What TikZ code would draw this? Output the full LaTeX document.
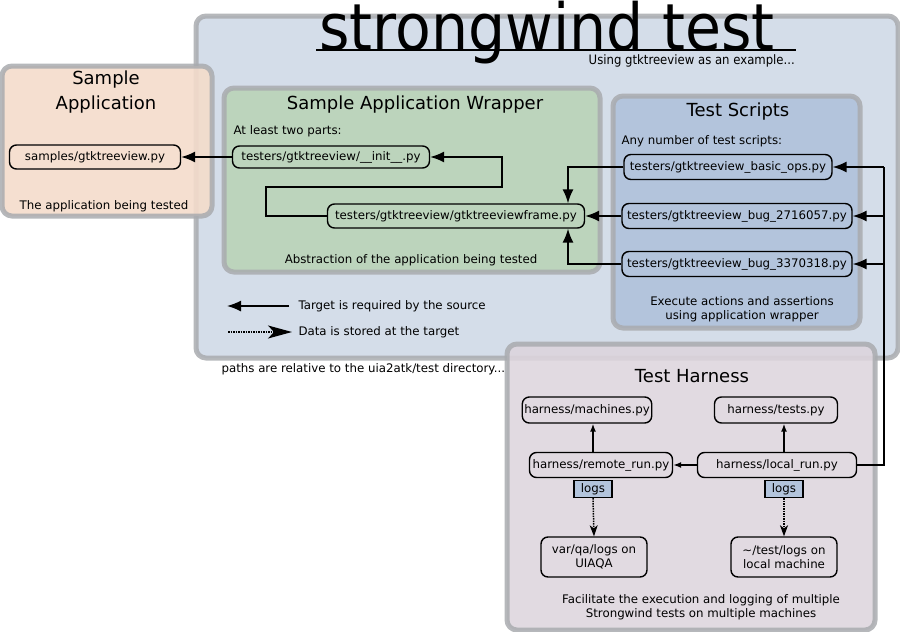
\documentclass[tikz,border=0pt]{standalone}
\usepackage{fontspec}
\usepackage{xcolor}
\setmainfont{DejaVu Sans}
\newfontfamily\condfont{DejaVu Sans Condensed}
\usetikzlibrary{arrows.meta}
\definecolor{paleBlue}{HTML}{D4DDE9}
\definecolor{peach}{HTML}{F4DCCB}
\definecolor{sage}{HTML}{BCD4BC}
\definecolor{steel}{HTML}{B3C4DC}
\definecolor{mauve}{HTML}{DDD5DD}
\definecolor{rim}{HTML}{A9ABAF}
\newcommand\fsnode{\fontsize{11.8}{16}\selectfont}
\newcommand\fshead{\fontsize{18}{25}\selectfont}
\tikzset{
  panel/.style={draw=rim, draw opacity=0.85, line width=5pt, rounded corners=10pt},
  file/.style={draw, line width=1.4pt, rounded corners=7pt, font=\fsnode, inner sep=2pt},
  logbox/.style={draw, line width=1.2pt, fill=steel, font=\fsnode, inner sep=1pt, minimum width=38pt, minimum height=17pt},
  req/.style={-{Latex[length=14pt,width=11pt]}, line width=1.5pt},
  reqsmall/.style={-{Latex[length=8pt,width=6pt]}, line width=1.5pt},
  store/.style={-{Stealth[length=11pt,width=8pt,inset=3pt]}, line width=1.5pt, densely dotted},
  storebig/.style={-{Stealth[length=24pt,width=13pt,inset=6pt]}, line width=1.5pt, densely dotted},
  note/.style={font=\fsnode, align=center}
}
\begin{document}
\begin{tikzpicture}[x=1pt,y=-1pt]
\useasboundingbox (0,0) rectangle (900,632);
% Outer panel and title
\draw[panel, fill=paleBlue] (196,16) rectangle (898,358);
\node[font=\condfont\fontsize{65}{70}\selectfont, anchor=base, inner sep=0pt] (title) at (547,50) {strongwind test};
\draw[line width=1.8pt] ([xshift=-3pt]title.base west) -- ([xshift=21pt]title.base east);
\node[font=\condfont\fontsize{13}{15}\selectfont, anchor=base east, inner sep=0pt] (subtitle) at (795,64) {Using gtktreeview as an example...};
\node[note, anchor=west] (paths) at (218,369) {paths are relative to the uia2atk/test directory...};

% Sample application
\draw[panel, fill=peach, fill opacity=0.9] (2,66) rectangle (212,216);
\node[font=\fshead, align=center] (appTitle) at (106,92) {Sample\\Application};
\node[file, minimum width=171pt, minimum height=24pt] (samples) at (95,157) {samples/gtktreeview.py};
\node[note] (appNote) at (104,206) {The application being tested};

% Wrapper
\draw[panel, fill=sage] (224,88) rectangle (600,272);
\node[font=\fshead] (wrapTitle) at (415,105) {Sample Application Wrapper};
\node[note, anchor=west] (wrapInfo) at (230,131) {At least two parts:};
\node[file, minimum width=197pt, minimum height=22pt] (init) at (331,157) {testers/gtktreeview/\_\_init\_\_.py};
\node[file, minimum width=257pt, minimum height=24pt] (frame) at (456,216) {testers/gtktreeview/gtktreeviewframe.py};
\node[note] (wrapNote) at (411,260) {Abstraction of the application being tested};
\draw[req] (init.west) -- (samples.east);
\draw[req] (frame.west) -- ++(-61,0) -- ++(0,-29) -- ++(236,0) |- (init.east);

% Test scripts
\draw[panel, fill=steel] (613,96) rectangle (860,328);
\node[font=\fshead] (scriptTitle) at (738,112) {Test Scripts};
\node[note, anchor=west] (scriptInfo) at (618,141) {Any number of test scripts:};
\node[file, minimum width=208pt, minimum height=25pt] (basic) at (728,167) {testers/gtktreeview\_basic\_ops.py};
\node[file, minimum width=230pt, minimum height=25pt] (bugA) at (737,216) {testers/gtktreeview\_bug\_2716057.py};
\node[file, minimum width=230pt, minimum height=25pt] (bugB) at (737,264) {testers/gtktreeview\_bug\_3370318.py};
\node[note] (scriptNote) at (742,309) {Execute actions and assertions\\[-2pt]using application wrapper};
\draw[req] (basic.west) -| ([xshift=112pt]frame.north);
\draw[req] (bugA.west) -- (frame.east);
\draw[req] (bugB.west) -| ([xshift=112pt]frame.south);

% Legend
\node[note, anchor=west] (legReq) at (295,306) {Target is required by the source};
\node[note, anchor=west] (legData) at (295,332) {Data is stored at the target};
\draw[req] ([xshift=-6pt]legReq.west) -- ++(-62,0);
\draw[storebig] ([xshift=-67pt]legData.west) -- ([xshift=-3pt]legData.west);

% Test harness
\draw[panel, fill=mauve, fill opacity=0.88] (507,344) rectangle (875,630);
\node[font=\fshead] (harnessTitle) at (692,376) {Test Harness};
\node[file, minimum width=115pt, minimum height=26pt] (machines) at (587,410) {harness/machines.py};
\node[file, minimum width=123pt, minimum height=26pt] (tests) at (776,410) {harness/tests.py};
\node[file, minimum width=143pt, minimum height=25pt] (remote) at (601,465) {harness/remote\_run.py};
\node[file, minimum width=159pt, minimum height=25pt] (local) at (777,465) {harness/local\_run.py};
\node[logbox] (logsR) at (593,489) {logs};
\node[logbox] (logsL) at (784,489) {logs};
\node[file, align=center, minimum width=106pt, minimum height=40pt] (uiaqa) at (594,557) {var/qa/logs on\\[-2pt]UIAQA};
\node[file, align=center, minimum width=106pt, minimum height=40pt] (home) at (784,557) {\textasciitilde/test/logs on\\[-2pt]local machine};
\node[note] (harnessNote) at (701,607) {Facilitate the execution and logging of multiple\\[-2pt]Strongwind tests on multiple machines};
\draw[reqsmall] (remote.north -| logsR.north) -- (machines.south -| logsR.north);
\draw[reqsmall] (local.north -| logsL.north) -- (tests.south -| logsL.north);
\draw[reqsmall] (local.west) -- (remote.east);
\draw[store] (logsR.south) -- (uiaqa.north);
\draw[store] (logsL.south) -- (home.north);

% Harness runs every script
\coordinate (bus) at (884,465);
\draw[line width=1.5pt] (local.east) -- (bus) -- (bus |- basic.east);
\foreach \s in {basic, bugA, bugB} {
  \draw[req] (bus |- \s.east) -- (\s.east);
}
\end{tikzpicture}
\end{document}
